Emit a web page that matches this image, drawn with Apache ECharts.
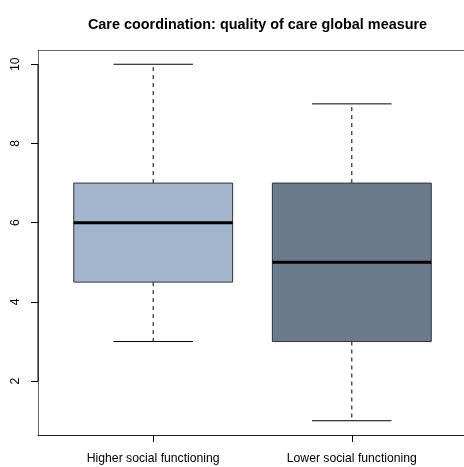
<!DOCTYPE html>
<html>
<head>
<meta charset="utf-8">
<script src="https://cdn.jsdelivr.net/npm/echarts@6/dist/echarts.min.js"></script>
<style>
  html, body { margin: 0; padding: 0; background: #fff; }
  #chart { width: 464px; height: 467px; }
</style>
</head>
<body>
<div id="chart"></div>
<script>
// Groups and their five-number summaries
const categories = ['Higher social functioning', 'Lower social functioning'];
const whiskerLow = [3, 1];
const lowerQuartile = [4.5, 3];
const medians = [6, 5];
const upperQuartile = [7, 7];
const whiskerHigh = [10, 9];
const boxColors = ['#A2B5CD', '#6C7B8B'];
const yTicks = [2, 4, 6, 8, 10];

const FONT = '"Liberation Sans", Arial, Helvetica, sans-serif';

const boxData = categories.map((c, i) => [
  i + 1, whiskerLow[i], lowerQuartile[i], medians[i], upperQuartile[i], whiskerHigh[i]
]);

function renderBox(params, api) {
  const i = params.dataIndex;
  const x = api.value(0);
  const pLow = api.coord([x, api.value(1)]);
  const pQ1 = api.coord([x, api.value(2)]);
  const pMed = api.coord([x, api.value(3)]);
  const pQ3 = api.coord([x, api.value(4)]);
  const pHigh = api.coord([x, api.value(5)]);
  const boxW = api.size([0.8, 0])[0];
  const capW = api.size([0.4, 0])[0];
  const cx = pMed[0];
  const lineStyle = { stroke: '#000', lineWidth: 1 };
  const dashed = { stroke: '#000', lineWidth: 1, lineDash: [4, 4] };
  return {
    type: 'group',
    children: [
      // whiskers
      { type: 'line', shape: { x1: cx, y1: pQ3[1], x2: cx, y2: pHigh[1] }, style: dashed },
      { type: 'line', shape: { x1: cx, y1: pQ1[1], x2: cx, y2: pLow[1] }, style: dashed },
      // caps
      { type: 'line', shape: { x1: cx - capW / 2, y1: pHigh[1], x2: cx + capW / 2, y2: pHigh[1] }, style: lineStyle },
      { type: 'line', shape: { x1: cx - capW / 2, y1: pLow[1], x2: cx + capW / 2, y2: pLow[1] }, style: lineStyle },
      // box
      {
        type: 'rect',
        shape: { x: cx - boxW / 2, y: pQ3[1], width: boxW, height: pQ1[1] - pQ3[1] },
        style: { fill: boxColors[i], stroke: '#333', lineWidth: 1 }
      },
      // median
      { type: 'line', shape: { x1: cx - boxW / 2, y1: pMed[1], x2: cx + boxW / 2, y2: pMed[1] }, style: { stroke: '#000', lineWidth: 3 } }
    ]
  };
}

// left axis line spanning the labelled tick range
function renderAxisLine(params, api) {
  const a = api.coord([api.value(0), api.value(1)]);
  const b = api.coord([api.value(0), api.value(2)]);
  return {
    type: 'line',
    shape: { x1: a[0], y1: a[1], x2: b[0], y2: b[1] },
    style: { stroke: '#000', lineWidth: 1 }
  };
}

const chart = echarts.init(document.getElementById('chart'), null, { renderer: 'canvas' });
chart.setOption({
  animation: false,
  backgroundColor: '#fff',
  title: {
    text: 'Care coordination: quality of care global measure',
    left: 252.5,
    textAlign: 'center',
    top: 13,
    textStyle: { fontFamily: FONT, fontSize: 14.4, fontWeight: 'bold', color: '#000' }
  },
  grid: {
    left: 38, top: 50, width: 429, height: 385,
    outerBoundsMode: 'none',
    containLabel: false,
    show: false
  },
  xAxis: [
    {
      type: 'value', min: 0.42, max: 2.58, position: 'bottom',
      axisLine: { show: true, lineStyle: { color: '#222', width: 1 } },
      splitLine: { show: false },
      axisTick: { show: true, length: 7, customValues: [1, 2], lineStyle: { color: '#000' } },
      axisLabel: {
        customValues: [1, 2], margin: 18,
        fontFamily: FONT, fontSize: 12.2, color: '#000',
        formatter: v => categories[Math.round(v) - 1] || ''
      }
    },
    {
      // top edge of the plot frame
      type: 'value', min: 0.42, max: 2.58, position: 'top',
      axisLine: { show: true, lineStyle: { color: '#666', width: 1 } },
      splitLine: { show: false },
      axisTick: { show: false },
      axisLabel: { show: false }
    }
  ],
  yAxis: {
    type: 'value', min: 0.64, max: 10.36,
    axisLine: { show: true, lineStyle: { color: '#666', width: 1 } },
    splitLine: { show: false },
    axisTick: { show: true, length: 7, customValues: yTicks, lineStyle: { color: '#000' } },
    axisLabel: {
      customValues: yTicks, rotate: 90, margin: 16,
      fontFamily: FONT, fontSize: 12.2, color: '#000'
    }
  },
  series: [
    {
      type: 'custom',
      renderItem: renderAxisLine,
      data: [[0.42, yTicks[0], yTicks[yTicks.length - 1]]],
      silent: true,
      clip: false
    },
    {
      type: 'custom',
      renderItem: renderBox,
      data: boxData,
      encode: { x: 0, y: [1, 2, 3, 4, 5] },
      silent: true
    }
  ]
});
</script>
</body>
</html>
